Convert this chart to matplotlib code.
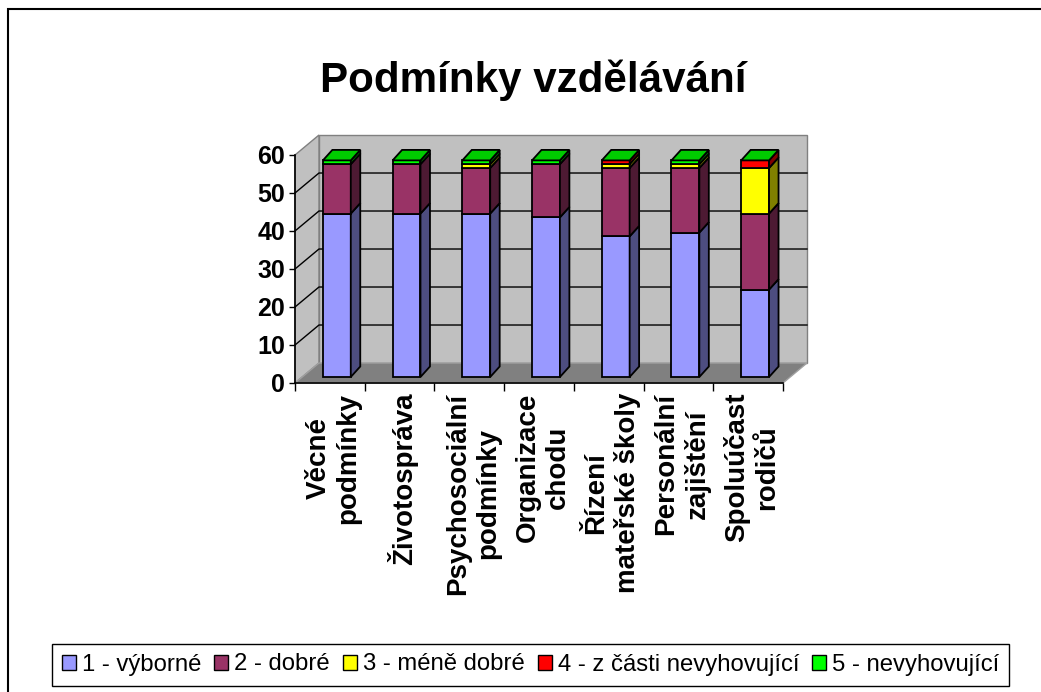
import matplotlib
matplotlib.use("Agg")
import matplotlib.pyplot as plt
from matplotlib.patches import Polygon, Rectangle, Patch
from matplotlib import font_manager

# data (number of answers per rating)
categories = ["Věcné\npodmínky", "Životospráva", "Psychosociální\npodmínky",
              "Organizace\nchodu", "Řízení\nmateřské školy",
              "Personální\nzajištění", "Spoluúčast\nrodičů"]
series_names = ["1 - výborné", "2 - dobré", "3 - méně dobré",
                "4 - z části nevyhovující", "5 - nevyhovující"]
vyborne = [43, 43, 43, 42, 37, 38, 23]
dobre = [13, 13, 12, 14, 18, 17, 20]
mene_dobre = [0, 0, 1, 0, 1, 1, 12]
z_casti = [0, 0, 0, 0, 1, 0, 2]
nevyhovujici = [1, 1, 1, 1, 0, 1, 0]
yticks = [0, 10, 20, 30, 40, 50, 60]

front_colors = ["#9999ff", "#993366", "#ffff00", "#ff0000", "#00ff00"]
side_colors = ["#4d4d80", "#4d1a33", "#808000", "#800000", "#008000"]
top_colors = ["#8080e0", "#802b55", "#e0e000", "#e00000", "#00cc00"]

W, H, DPI = 1041, 692, 100

names = {f.name for f in font_manager.fontManager.ttflist}
if "Liberation Sans Narrow" in names:
    NARROW, nscale = "Liberation Sans Narrow", 1.0
else:
    NARROW, nscale = "Liberation Sans", 0.82
plt.rcParams["font.family"] = ["Liberation Sans", "DejaVu Sans"]

fig = plt.figure(figsize=(W / DPI, H / DPI), dpi=DPI)
ax = fig.add_axes([295 / W, 1 - 383 / H, 488 / W, 228 / H])
n = len(categories)
ymax = yticks[-1]
ax.set_xlim(0, n)
ax.set_ylim(0, ymax)
ax.patch.set_visible(False)

# pseudo-3D geometry (data units)
DX, DY = 0.344, 5.26      # floor / wall depth
BX, BO = 0.40, 1.58       # bar front offset
BW = 0.40                 # bar width
BDX, BDY = 0.136, 2.76    # bar depth

# walls and floor
ax.add_patch(Rectangle((DX, DY), n, ymax, fc="#c0c0c0", ec="#808080", lw=1,
                       zorder=0.5, clip_on=False))
ax.add_patch(Polygon([(0, 0), (DX, DY), (DX, DY + ymax), (0, ymax)],
                     fc="#c0c0c0", ec="#808080", lw=1, zorder=0.5, clip_on=False))
for v in yticks[1:-1]:
    ax.plot([0, DX, DX + n], [v, v + DY, v + DY], color="black", lw=1,
            zorder=0.6, clip_on=False)
ax.add_patch(Polygon([(0, 0), (n, 0), (n + DX, DY), (DX, DY)],
                     fc="#808080", ec="#a0a0a0", lw=1, zorder=0.7, clip_on=False))

# stacked 3D columns
stack = [vyborne, dobre, mene_dobre, z_casti, nevyhovujici]
for i in range(n):
    x0 = i + BX
    base = 0
    for k, vals in enumerate(stack):
        v = vals[i]
        if v <= 0:
            continue
        ax.add_patch(Rectangle((x0, base + BO), BW, v, fc=front_colors[k],
                               ec="black", lw=1.3, zorder=2, clip_on=False))
        ax.add_patch(Polygon([(x0 + BW, base + BO), (x0 + BW + BDX, base + BO + BDY),
                              (x0 + BW + BDX, base + v + BO + BDY), (x0 + BW, base + v + BO)],
                             fc=side_colors[k], ec="black", lw=1.3, zorder=2, clip_on=False))
        base += v
    top = base + BO
    ax.add_patch(Polygon([(x0, top), (x0 + BW, top), (x0 + BW + BDX, top + BDY),
                          (x0 + BDX, top + BDY)],
                         fc=top_colors[-1], ec="black", lw=1.3, zorder=2, clip_on=False))

for s in ["top", "right"]:
    ax.spines[s].set_visible(False)
for s in ["left", "bottom"]:
    ax.spines[s].set_color("black")
    ax.spines[s].set_linewidth(1.2)
    ax.spines[s].set_zorder(3)

ax.set_yticks(yticks)
ax.set_yticklabels([str(t) for t in yticks], fontsize=18, fontweight="bold")
ax.tick_params(axis="y", direction="out", length=4, width=1, pad=3)
ax.set_xticks(range(n + 1))
ax.set_xticklabels([])
ax.tick_params(axis="x", which="major", direction="out", length=6, width=1)
ax.set_xticks([i + 0.55 for i in range(n)], minor=True)
ax.set_xticklabels(categories, minor=True, rotation=90, fontsize=20,
                   fontweight="bold", va="top", ha="center")
ax.tick_params(axis="x", which="minor", length=0, pad=7)

fig.text(533 / W, 1 - 92 / H, "Podmínky vzdělávání", ha="center", va="baseline",
         fontsize=37 * nscale, fontweight="bold", family=NARROW)

# legend sized in pixels of the reference
leg_fs = 21 * nscale
fs_px = leg_fs * DPI / 72
handles = [Patch(fc=c, ec="black", lw=1) for c in front_colors]
leg = fig.legend(handles, series_names, loc="center",
                 bbox_to_anchor=(530.5 / W, 1 - 664.5 / H), ncol=5,
                 frameon=True, fancybox=False, shadow=False, framealpha=1,
                 edgecolor="black", prop={"family": NARROW, "size": leg_fs},
                 handlelength=14 / fs_px, handleheight=14 / fs_px,
                 handletextpad=6 / fs_px, columnspacing=13 / fs_px,
                 borderpad=10 / fs_px, borderaxespad=0)
leg.get_frame().set_linewidth(1.0)

# chart area border (only left and top edges fall inside the picture)
fig.add_artist(Rectangle((8 / W, -0.05), 1.2, 1.05 - 9 / H, transform=fig.transFigure,
                         fill=False, ec="black", lw=1.5))

fig.savefig("out.png", dpi=DPI)
